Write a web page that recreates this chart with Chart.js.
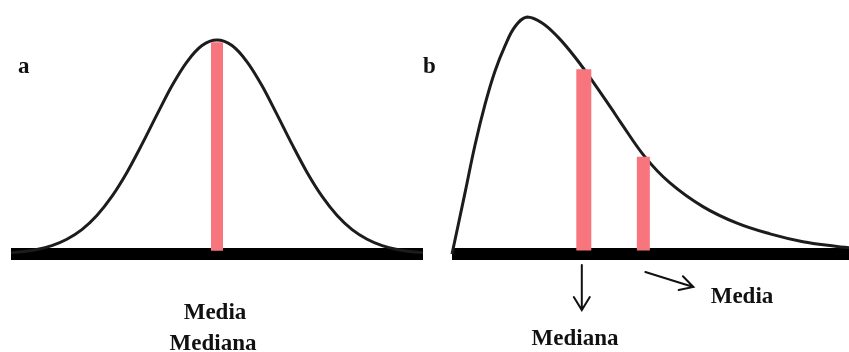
<!DOCTYPE html>
<html>
<head>
<meta charset="utf-8">
<script src="https://cdn.jsdelivr.net/npm/chart.js@4.4.1/dist/chart.umd.min.js"></script>
<style>
  html, body { margin: 0; padding: 0; background: #fff; }
  #page { position: relative; width: 849px; height: 352px; overflow: hidden; }
  .box { position: absolute; top: 0; height: 352px; }
  .lbl {
    position: absolute;
    font-family: "Liberation Serif", "DejaVu Serif", serif;
    font-weight: bold;
    font-size: 23px;
    line-height: 23px;
    color: #111;
    white-space: nowrap;
  }
  .mid { transform: translateX(-50%); }
</style>
</head>
<body>
<div id="page">
  <div class="box" style="left:0; width:430px;"><canvas id="chartA"></canvas></div>
  <div class="box" style="left:430px; width:419px;"><canvas id="chartB"></canvas></div>

  <div class="lbl" style="left:18px; top:54px;">a</div>
  <div class="lbl" style="left:423px; top:54px;">b</div>
  <div class="lbl mid" style="left:215px; top:300px;">Media</div>
  <div class="lbl mid" style="left:213px; top:331px;">Mediana</div>
  <div class="lbl mid" style="left:742px; top:284px;">Media</div>
  <div class="lbl mid" style="left:575px; top:326px;">Mediana</div>
</div>

<script>
// panel a: symmetric curve (x in sd-like units, y relative height)
const normX = [-3.43, -3.25, -3, -2.75, -2.5, -2.25, -2, -1.75, -1.5, -1.25, -1, -0.75, -0.5, -0.25, 0,
               0.25, 0.5, 0.75, 1, 1.25, 1.5, 1.75, 2, 2.25, 2.5, 2.75, 3, 3.25, 3.43];
const normY = [0.006, 0.011, 0.021, 0.039, 0.069, 0.114, 0.18, 0.269, 0.381, 0.512, 0.651, 0.786, 0.898, 0.974, 1,
               0.974, 0.898, 0.786, 0.651, 0.512, 0.381, 0.269, 0.18, 0.114, 0.069, 0.039, 0.021, 0.011, 0.006];
const meanA = 0;
const meanATop = 0.99;

// panel b: right-skewed curve
const skewX = [0, 0.33, 0.58, 0.83, 1.08, 1.34, 1.59, 1.89, 2.27, 2.67, 3.1, 3.6, 4.03, 4.23,
               4.86, 5.49, 6.32, 7.18, 8.01, 8.84, 9.7, 10];
const skewY = [0, 0.26, 0.46, 0.63, 0.77, 0.88, 0.96, 1.0, 0.975, 0.915, 0.83, 0.715, 0.61, 0.56,
               0.41, 0.3, 0.2, 0.13, 0.085, 0.052, 0.032, 0.026];
const medianB = 3.32;
const medianBTop = 0.78;
const meanB = 4.82;
const meanBTop = 0.41;

const red = "rgb(247, 118, 126)";
const barBase = 0.015;

const toPts = (xs, ys) => xs.map((x, i) => ({ x: x, y: ys[i] }));

function vbar(x, top, width) {
    return {
        data: [{ x: x, y: barBase }, { x: x, y: top }],
        borderColor: red,
        borderWidth: width,
        borderCapStyle: "butt",
        pointRadius: 0,
        clip: false,
    };
}

function baseLine(x0, x1) {
    return {
        data: [{ x: x0, y: 0 }, { x: x1, y: 0 }],
        borderColor: "#000",
        borderWidth: 12,
        borderCapStyle: "butt",
        pointRadius: 0,
        clip: false,
    };
}

function curve(xs, ys, mode) {
    return {
        data: toPts(xs, ys),
        borderColor: "#1c1c1c",
        borderWidth: 3,
        cubicInterpolationMode: mode,
        tension: 0.4,
        pointRadius: 0,
        clip: false,
    };
}

function baseOptions(xmin, xmax, padding) {
    return {
        animation: false,
        responsive: true,
        maintainAspectRatio: false,
        layout: { padding: padding },
        plugins: { legend: { display: false }, tooltip: { enabled: false } },
        scales: {
            x: { type: "linear", min: xmin, max: xmax, display: false },
            y: { min: 0, max: 1, display: false },
        },
    };
}

// arrows under panel b, placed from the marker positions
const arrowPlugin = {
    id: "arrows",
    afterDraw(chart) {
        const ctx = chart.ctx;
        const xs = chart.scales.x;
        const ys = chart.scales.y;
        const yBase = ys.getPixelForValue(0);
        const mx = xs.getPixelForValue(medianB) - 2;
        const ax = xs.getPixelForValue(meanB) + 2;

        ctx.save();
        ctx.strokeStyle = "#111";
        ctx.lineWidth = 2;
        ctx.lineCap = "round";

        // down arrow -> Mediana
        const y0 = yBase + 11, y1 = yBase + 56;
        ctx.beginPath();
        ctx.moveTo(mx, y0);
        ctx.lineTo(mx, y1);
        ctx.moveTo(mx - 8, y1 - 13);
        ctx.lineTo(mx, y1);
        ctx.lineTo(mx + 8, y1 - 13);
        ctx.stroke();

        // slanted arrow -> Media
        const sx = ax, sy = yBase + 18;
        const ex = ax + 48, ey = yBase + 33;
        const ang = Math.atan2(ey - sy, ex - sx);
        const len = 15;
        ctx.beginPath();
        ctx.moveTo(sx, sy);
        ctx.lineTo(ex, ey);
        ctx.moveTo(ex - len * Math.cos(ang - 0.5), ey - len * Math.sin(ang - 0.5));
        ctx.lineTo(ex, ey);
        ctx.lineTo(ex - len * Math.cos(ang + 0.5), ey - len * Math.sin(ang + 0.5));
        ctx.stroke();
        ctx.restore();
    },
};

new Chart(document.getElementById("chartA"), {
    type: "line",
    data: {
        datasets: [
            vbar(meanA, meanATop, 12),
            curve(normX, normY, "monotone"),
            baseLine(normX[0], normX[normX.length - 1]),
        ],
    },
    options: baseOptions(normX[0], normX[normX.length - 1], { top: 40, bottom: 98, left: 11, right: 7 }),
});

new Chart(document.getElementById("chartB"), {
    type: "line",
    data: {
        datasets: [
            vbar(medianB, medianBTop, 15),
            vbar(meanB, meanBTop, 13),
            curve(skewX, skewY, "default"),
            baseLine(skewX[0], skewX[skewX.length - 1]),
        ],
    },
    options: baseOptions(skewX[0], skewX[skewX.length - 1], { top: 17, bottom: 98, left: 22, right: 0 }),
    plugins: [arrowPlugin],
});
</script>
</body>
</html>
